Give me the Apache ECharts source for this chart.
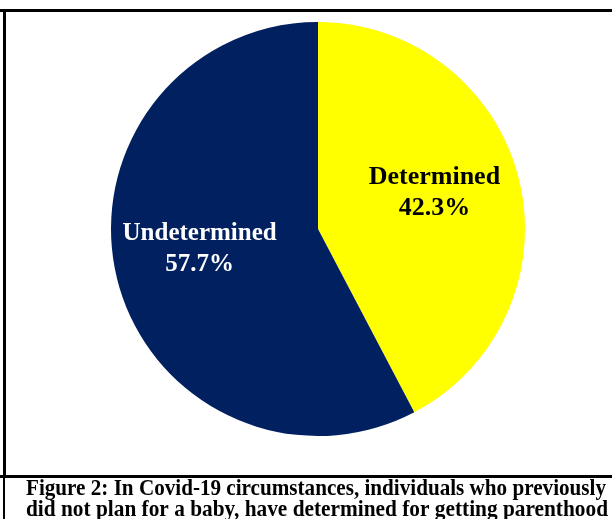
<!DOCTYPE html>
<html>
<head>
<meta charset="utf-8">
<script src="https://cdn.jsdelivr.net/npm/echarts@6/dist/echarts.min.js"></script>
<style>
html,body{margin:0;padding:0;background:#fff;}
#chart{width:612px;height:519px;}
</style>
</head>
<body>
<div id="chart"></div>
<script>
const categories = ['Determined', 'Undetermined'];
const values = [42.3, 57.7];
const captionLines = [
  'Figure 2: In Covid-19 circumstances, individuals who previously',
  'did not plan for a baby, have determined for getting parenthood'
];

const sliceColors = ['#FFFF00', '#002060'];
const labelColors = ['#000000', '#FFFFFF'];
const labelSizes = [26, 25];
const labelOffsets = [[13, -11], [-15, -5]];

const FONT = '"Liberation Serif", "Times New Roman", serif';
const captionFont = 'bold 23px ' + FONT;

function measure(text, font) {
  const c = document.createElement('canvas').getContext('2d');
  c.font = font;
  return c.measureText(text).width;
}

const chart = echarts.init(document.getElementById('chart'), null, {renderer: 'canvas'});

const captionWidths = [580, 582];
const captionGraphics = captionLines.map((t, i) => {
  const w = measure(t, captionFont);
  return {
    type: 'text',
    x: 26,
    y: 477.5 + i * 21,
    scaleX: captionWidths[i] / w,
    originX: 0,
    style: {
      text: t,
      font: captionFont,
      fill: '#000',
      verticalAlign: 'top'
    }
  };
});

const option = {
  backgroundColor: '#fff',
  animation: false,
  graphic: [
    {type: 'rect', shape: {x: 0, y: 9, width: 612, height: 3}, style: {fill: '#000'}},
    {type: 'rect', shape: {x: 3, y: 9, width: 3, height: 468}, style: {fill: '#000'}},
    {type: 'rect', shape: {x: 3, y: 476, width: 2, height: 43}, style: {fill: '#000'}},
    {type: 'rect', shape: {x: 0, y: 475, width: 612, height: 3}, style: {fill: '#000'}}
  ].concat(captionGraphics),
  series: [{
    type: 'pie',
    center: [318, 229],
    radius: 207,
    startAngle: 90,
    clockwise: true,
    avoidLabelOverlap: false,
    silent: true,
    label: {
      show: true,
      position: 'inside',
      formatter: p => p.name + '\n' + p.value.toFixed(1) + '%',
      fontFamily: FONT,
      fontWeight: 'bold',
      lineHeight: 31,
      align: 'center'
    },
    labelLine: {show: false},
    itemStyle: {borderWidth: 0},
    data: categories.map((c, i) => ({
      name: c,
      value: values[i],
      itemStyle: {color: sliceColors[i]},
      label: {color: labelColors[i], offset: labelOffsets[i], fontSize: labelSizes[i]}
    }))
  }]
};
chart.setOption(option);
</script>
</body>
</html>
